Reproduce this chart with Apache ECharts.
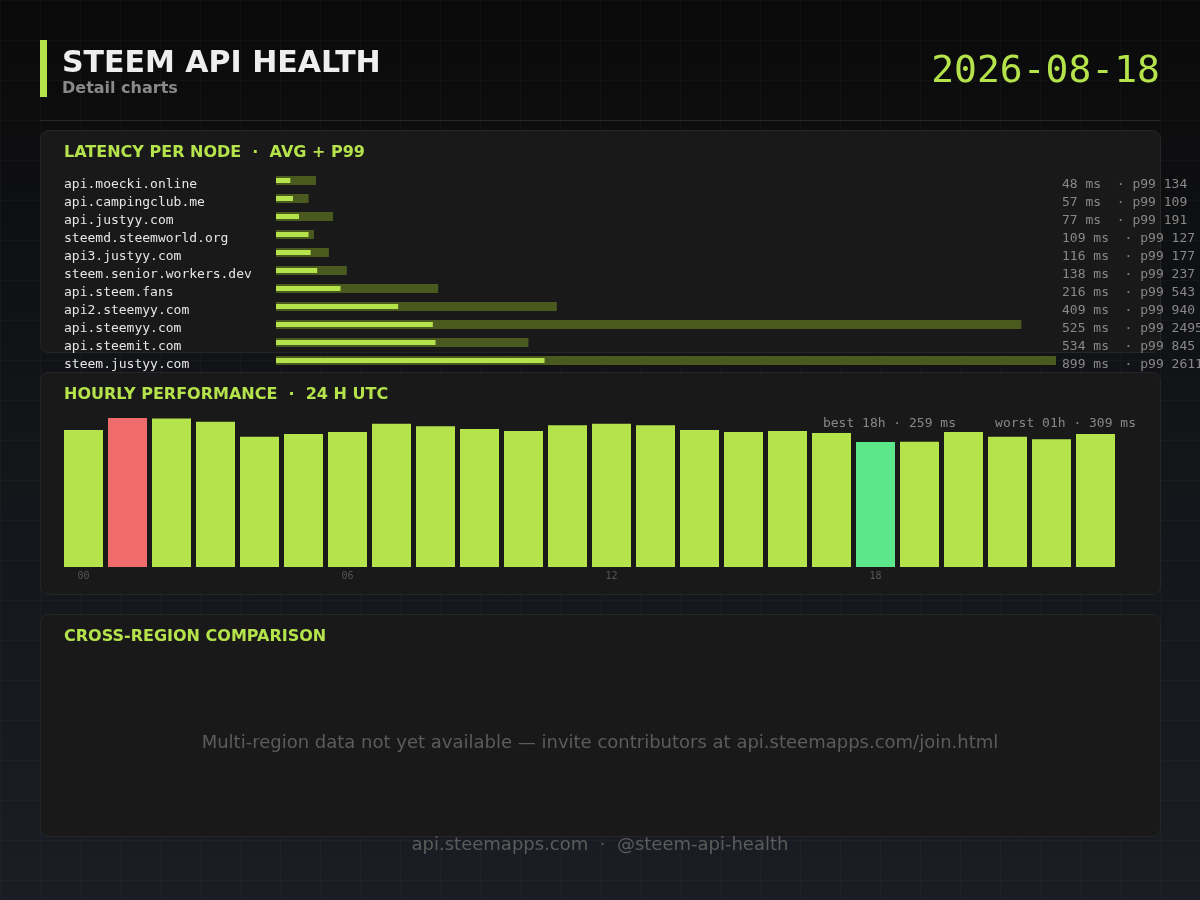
<!DOCTYPE html>
<html lang="en">
<head>
    <meta charset="UTF-8">
    <title>Steem API Health</title>
    <style>
        * {
            padding: 0;
            margin: 0;
        }

        body {
            width: 1200px;
            height: 900px;
            background-color: #12141a;
            background-image:
                linear-gradient(rgba(255, 255, 255, 0.025) 1px, transparent 1px),
                linear-gradient(90deg, rgba(255, 255, 255, 0.025) 1px, transparent 1px),
                linear-gradient(180deg, #0a0a0a 0%, #131519 50%, #1a1d24 100%);
            background-size: 40px 40px, 40px 40px, 100% 100%;
            overflow: hidden;
        }

        #chart {
            width: 1200px;
            height: 900px;
        }
    </style>
    <script src="https://cdn.jsdelivr.net/npm/echarts@6.0.0/dist/echarts.min.js"></script>
</head>
<body>
<div id="chart"></div>
<script>
    // latency per node (ms)
    const nodes = [
        'api.moecki.online', 'api.campingclub.me', 'api.justyy.com', 'steemd.steemworld.org',
        'api3.justyy.com', 'steem.senior.workers.dev', 'api.steem.fans', 'api2.steemyy.com',
        'api.steemyy.com', 'api.steemit.com', 'steem.justyy.com'
    ]
    const avgMs = [48, 57, 77, 109, 116, 138, 216, 409, 525, 534, 899]
    const p99Ms = [134, 109, 191, 127, 177, 237, 543, 940, 2495, 845, 2611]

    // hourly average latency (ms), 00h..23h UTC
    const hours = ['00', '01', '02', '03', '04', '05', '06', '07', '08', '09', '10', '11',
        '12', '13', '14', '15', '16', '17', '18', '19', '20', '21', '22', '23']
    const hourlyMs = [284, 309, 308, 301, 270, 276, 280, 297, 292, 286, 282, 294,
        297, 294, 284, 280, 282, 278, 259, 260, 280, 270, 265, 276]

    const LIME = '#b5e34b'
    const MONO = '"DejaVu Sans Mono", monospace'
    const SANS = '"DejaVu Sans", sans-serif'

    let bestIdx = hourlyMs.indexOf(Math.min(...hourlyMs))
    let worstIdx = hourlyMs.indexOf(Math.max(...hourlyMs))

    function panel(y, h) {
        return {
            type: 'rect',
            shape: {x: 40.5, y: y + 0.5, width: 1120, height: h, r: 8},
            style: {fill: '#191919', stroke: '#262626', lineWidth: 1},
            z: -10
        }
    }

    function panelTitle(text, y) {
        return {
            type: 'text',
            x: 64, y: y,
            style: {text: text, fill: LIME, font: 'bold 16px ' + SANS, textVerticalAlign: 'middle'}
        }
    }

    let chart = echarts.init(document.getElementById('chart'))
    chart.setOption({
        animation: false,
        backgroundColor: 'transparent',
        graphic: [
            // header
            {type: 'rect', shape: {x: 40, y: 40, width: 7, height: 57}, style: {fill: LIME}},
            {
                type: 'text', x: 62, y: 64,
                style: {text: 'STEEM API HEALTH', fill: '#eeeeee', font: 'bold 30px ' + SANS, textVerticalAlign: 'middle'}
            },
            {
                type: 'text', x: 62, y: 89,
                style: {text: 'Detail charts', fill: '#8a8a8a', font: 'bold 16px ' + SANS, textVerticalAlign: 'middle'}
            },
            {
                type: 'text', x: 1160, y: 72,
                style: {text: '2026-08-18', fill: LIME, font: '38px ' + MONO, textAlign: 'right', textVerticalAlign: 'middle'}
            },
            {type: 'line', shape: {x1: 40, y1: 120.5, x2: 1160, y2: 120.5}, style: {stroke: '#2a2a2a', lineWidth: 1}},
            // panels
            panel(130, 222),
            panel(372, 222),
            panel(614, 222),
            panelTitle('LATENCY PER NODE  ·  AVG + P99', 153),
            panelTitle('HOURLY PERFORMANCE  ·  24 H UTC', 395),
            panelTitle('CROSS-REGION COMPARISON', 637),
            {
                type: 'text', x: 1136, y: 424,
                style: {
                    text: 'best ' + hours[bestIdx] + 'h · ' + hourlyMs[bestIdx] + ' ms     worst ' +
                        hours[worstIdx] + 'h · ' + hourlyMs[worstIdx] + ' ms',
                    fill: '#888888', font: '13px ' + MONO, textAlign: 'right', textVerticalAlign: 'middle'
                }
            },
            {
                type: 'text', x: 600, y: 743,
                style: {
                    text: 'Multi-region data not yet available — invite contributors at api.steemapps.com/join.html',
                    fill: '#5c5c5c', font: '18px ' + SANS, textAlign: 'center', textVerticalAlign: 'middle'
                }
            },
            // footer
            {
                type: 'text', x: 600, y: 845, z: 10,
                style: {
                    text: 'api.steemapps.com  ·  @steem-api-health',
                    fill: '#5c5c5c', font: '18px ' + SANS, textAlign: 'center', textVerticalAlign: 'middle'
                }
            }
        ],
        grid: [
            {left: 276, width: 780, top: 171.5, height: 198, outerBoundsMode: 'none'},
            {left: 61.5, width: 1056, top: 418, height: 149, outerBoundsMode: 'none'}
        ],
        xAxis: [
            {
                gridIndex: 0, type: 'value', min: 0, max: Math.max(...p99Ms),
                show: false
            },
            {
                gridIndex: 1, type: 'category', data: hours,
                axisLine: {show: false}, axisTick: {show: false},
                axisLabel: {interval: 5, color: '#555555', fontFamily: MONO, fontSize: 10, margin: 4}
            }
        ],
        yAxis: [
            {
                gridIndex: 0, type: 'category', data: nodes, inverse: true,
                axisLine: {show: false}, axisTick: {show: false},
                axisLabel: {
                    interval: 0, align: 'left', margin: 212, verticalAlign: 'top', lineHeight: 8,
                    color: '#e6e6e6', fontFamily: MONO, fontSize: 13
                }
            },
            {
                gridIndex: 0, type: 'category', data: nodes, inverse: true, position: 'right',
                axisLine: {show: false}, axisTick: {show: false},
                axisLabel: {
                    interval: 0, align: 'left', margin: 6, verticalAlign: 'top', lineHeight: 8,
                    color: '#888888', fontFamily: MONO, fontSize: 13,
                    formatter: (v, i) => avgMs[i] + ' ms  · p99 ' + p99Ms[i]
                }
            },
            {
                gridIndex: 1, type: 'value', min: 0, max: 'dataMax', show: false
            }
        ],
        series: [
            {
                name: 'p99', type: 'bar', xAxisIndex: 0, yAxisIndex: 0,
                data: p99Ms, barWidth: 9,
                itemStyle: {color: '#4a5a1f'}
            },
            {
                // own axis so the thin bar sits centred inside the p99 bar
                name: 'avg', type: 'bar', xAxisIndex: 0, yAxisIndex: 1,
                data: avgMs, barWidth: 5,
                itemStyle: {color: LIME}
            },
            {
                name: 'hourly', type: 'bar', xAxisIndex: 1, yAxisIndex: 2,
                data: hourlyMs, barWidth: 39,
                itemStyle: {
                    color: p => p.dataIndex === bestIdx ? '#5ce88a' : (p.dataIndex === worstIdx ? '#f06b6b' : LIME)
                }
            }
        ]
    })
</script>
</body>
</html>
